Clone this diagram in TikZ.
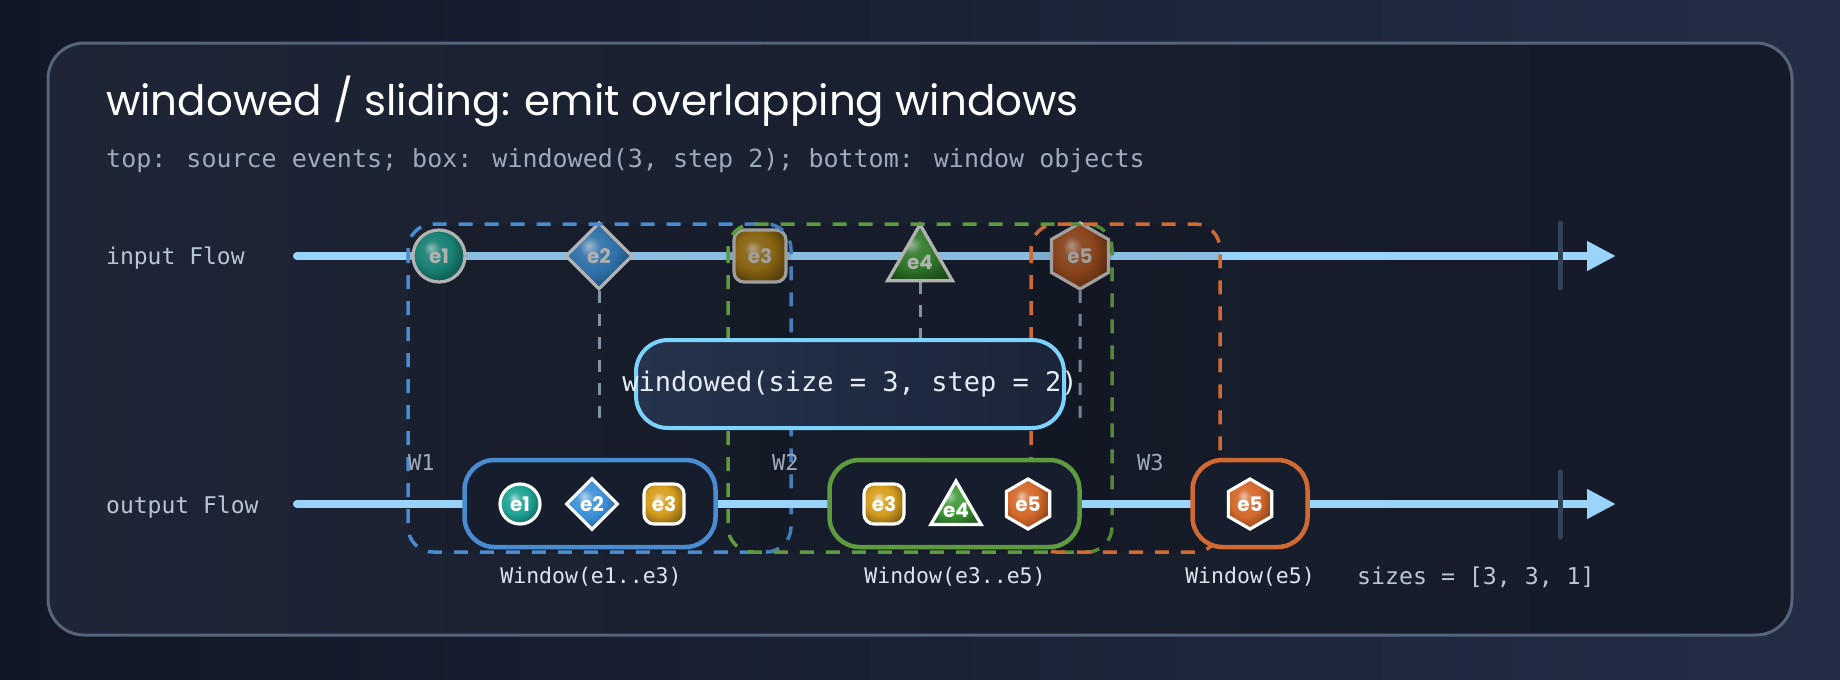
\documentclass[tikz,border=0pt]{standalone}
\usepackage{fontspec}
\setmainfont{Poppins}
\newfontfamily\codefont{DejaVu Sans Mono}
\usetikzlibrary{shapes.geometric,arrows.meta}

\pgfdeclarelayer{bg}
\pgfsetlayers{bg,main}

\definecolor{bgA}{HTML}{111726}
\definecolor{bgB}{HTML}{232E45}
\definecolor{panelA}{HTML}{1E2536}
\definecolor{panelB}{HTML}{141A27}
\definecolor{framecol}{HTML}{56657B}
\definecolor{flowcol}{HTML}{9AD4FB}
\definecolor{tickcol}{HTML}{334256}
\definecolor{opcol}{HTML}{7DD3FC}
\definecolor{opfillA}{HTML}{25334C}
\definecolor{opfillB}{HTML}{1B2539}
\definecolor{optxt}{HTML}{E6EDF5}
\definecolor{boxfill}{HTML}{161D2C}
\definecolor{wblue}{HTML}{4A8CD0}
\definecolor{wgreen}{HTML}{5E9A3E}
\definecolor{worange}{HTML}{D06A32}
\definecolor{cteal}{HTML}{1FA393}
\definecolor{cblue}{HTML}{3B8FD6}
\definecolor{cgold}{HTML}{D69E1E}
\definecolor{cgreen}{HTML}{3D9A35}
\definecolor{corange}{HTML}{D4692A}
\definecolor{subtxt}{HTML}{9EABBD}
\definecolor{lanetxt}{HTML}{BAC5D3}
\definecolor{lbltxt}{HTML}{DCE4EE}
\definecolor{dashcol}{HTML}{94A3B8}

\colorlet{evcol}{cteal}
\pgfdeclareradialshading[evcol]{evball}{\pgfqpoint{-8bp}{8bp}}{%
  color(0bp)=(evcol!40!white); color(8bp)=(evcol!90!white);
  color(18bp)=(evcol); color(30bp)=(evcol!65!black); color(50bp)=(evcol!50!black)}

\tikzset{
  evshade/.code={\colorlet{evcol}{#1}\tikzset{shade,shading=evball}},
  ev/.style={draw=white, line width=3.2pt, inner sep=0pt, text=white,
    font=\fontsize{20}{20}\selectfont\bfseries},
  evin/.style={ev, draw=white!78!black, text=white!78!black},
  evcirc/.style={circle, minimum size=#1},
  evdia/.style={diamond, minimum width=#1, minimum height=#1},
  evsq/.style={rectangle, rounded corners=10pt, minimum size=#1},
  evtri/.style={regular polygon, regular polygon sides=3, minimum size=#1, inner sep=-9pt, yshift=-6pt},
  evhex/.style={regular polygon, regular polygon sides=6, regular polygon rotate=30, minimum size=#1, inner sep=-4pt},
}

\begin{document}
\begin{tikzpicture}[x=1pt,y=-1pt,
  panel/.style={draw=framecol, line width=3pt, rounded corners=36pt, left color=panelA, right color=panelB},
  flow/.style={line width=8pt, draw=flowcol, line cap=round, -{Triangle[length=29pt,width=28pt]}},
  tick/.style={line width=5pt, draw=tickcol, line cap=round},
  drop/.style={draw=dashcol, line width=3pt, dash pattern=on 12pt off 11pt},
  win/.style={line width=3.5pt, dash pattern=on 14pt off 12pt, rounded corners=25pt, fill=black, fill opacity=0.1},
  wbox/.style={rectangle, rounded corners=30pt, line width=4.5pt, fill=boxfill, minimum height=87pt},
  opbox/.style={rectangle, rounded corners=32pt, line width=4pt, draw=opcol, left color=opfillA, right color=opfillB,
    minimum width=428pt, minimum height=88pt, inner xsep=-20pt, text=optxt, font=\codefont\fontsize{27}{27}\selectfont},
  lane/.style={anchor=base west, inner sep=0pt, text=lanetxt, font=\codefont\fontsize{23}{23}\selectfont},
  wtag/.style={anchor=west, inner sep=0pt, text=subtxt, font=\codefont\fontsize{22}{22}\selectfont},
  wlbl/.style={inner sep=0pt, text=lbltxt, font=\codefont\fontsize{21.5}{21.5}\selectfont}]
  \useasboundingbox (0,0) rectangle (1840,680);
  \begin{pgfonlayer}{bg}
    \fill[left color=bgA, right color=bgB] (0,0) rectangle (1840,680);
    \draw[panel] (48,43) rectangle (1792,635);
  \end{pgfonlayer}

  % heading
  \node[anchor=base west, inner sep=0pt, text=white, font=\fontsize{42}{42}\selectfont] (title) at (106,115)
    {windowed / sliding: emit overlapping windows};
  \node[anchor=base west, inner sep=0pt, text=subtxt, font=\codefont\fontsize{25}{25}\selectfont] (subtitle) at (106,167)
    {top: source events; box: windowed(3, step 2); bottom: window objects};

  % input flow
  \node[lane] (inlbl) at (106,264) {input Flow};
  \coordinate (inA) at (297,256);
  \coordinate (inB) at (1616,256);
  \coordinate (inT1) at (1560,223);
  \coordinate (inT2) at (1560,288);
  \draw[flow] (inA) -- (inB);
  \draw[tick] (inT1) -- (inT2);

  \node[evin, evcirc=52, evshade=cteal!88!black] (ie1) at (439,256) {e1};
  \node[evin, evdia=67, evshade=cblue!88!black] (ie2) at (599,256) {e2};
  \node[evin, evsq=52, evshade=cgold!80!black] (ie3) at (760,256) {e3};
  \node[evin, evtri=75, evshade=cgreen!88!black] (ie4) at (920,256) {e4};
  \node[evin, evhex=66, evshade=corange!80!black] (ie5) at (1080,256) {e5};

  \coordinate (d2) at (599,427);
  \coordinate (d4) at (920,427);
  \coordinate (d5) at (1080,427);
  \begin{pgfonlayer}{bg}
    \draw[drop] (ie2) -- (d2);
    \draw[drop] (ie4) -- (d4);
    \draw[drop] (ie5) -- (d5);
  \end{pgfonlayer}

  % windows
  \draw[win, draw=wblue] (408,224) rectangle (791,552);
  \draw[win, draw=wgreen] (728,224) rectangle (1112,552);
  \draw[win, draw=worange] (1031,224) rectangle (1220,552);
  \node[wtag] (w1) at (408,462) {W1};
  \node[wtag] (w2) at (772,462) {W2};
  \node[wtag] (w3) at (1137,462) {W3};

  % operator
  \node[opbox] (op) at (850,384) {windowed(size = 3, step = 2)};

  % output flow
  \node[lane] (outlbl) at (106,513) {output Flow};
  \coordinate (outA) at (297,504);
  \coordinate (outB) at (1616,504);
  \coordinate (outT1) at (1560,472);
  \coordinate (outT2) at (1560,537);
  \draw[flow] (outA) -- (outB);
  \draw[tick] (outT1) -- (outT2);

  \node[wbox, draw=wblue, minimum width=251] (ob1) at (590,503.5) {};
  \node[wbox, draw=wgreen, minimum width=250] (ob2) at (954.5,503.5) {};
  \node[wbox, draw=worange, minimum width=115] (ob3) at (1250,503.5) {};

  \node[ev, evcirc=40, evshade=cteal] (o1e1) at (520,504) {e1};
  \node[ev, evdia=52, evshade=cblue] (o1e2) at (592,504) {e2};
  \node[ev, evsq=40, evshade=cgold] (o1e3) at (664,504) {e3};
  \node[ev, evsq=40, evshade=cgold] (o2e3) at (884,504) {e3};
  \node[ev, evtri=58, evshade=cgreen] (o2e4) at (956,504) {e4};
  \node[ev, evhex=50, evshade=corange] (o2e5) at (1028,504) {e5};
  \node[ev, evhex=50, evshade=corange] (o3e5) at (1250,504) {e5};

  \node[wlbl] (wl1) at (591,577) {Window(e1..e3)};
  \node[wlbl] (wl2) at (955,577) {Window(e3..e5)};
  \node[wlbl] (wl3) at (1250,577) {Window(e5)};
  \node[wtag, text=lanetxt, font=\codefont\fontsize{23.2}{23.2}\selectfont] (sizes) at (1357,577) {sizes = [3, 3, 1]};
\end{tikzpicture}
\end{document}
